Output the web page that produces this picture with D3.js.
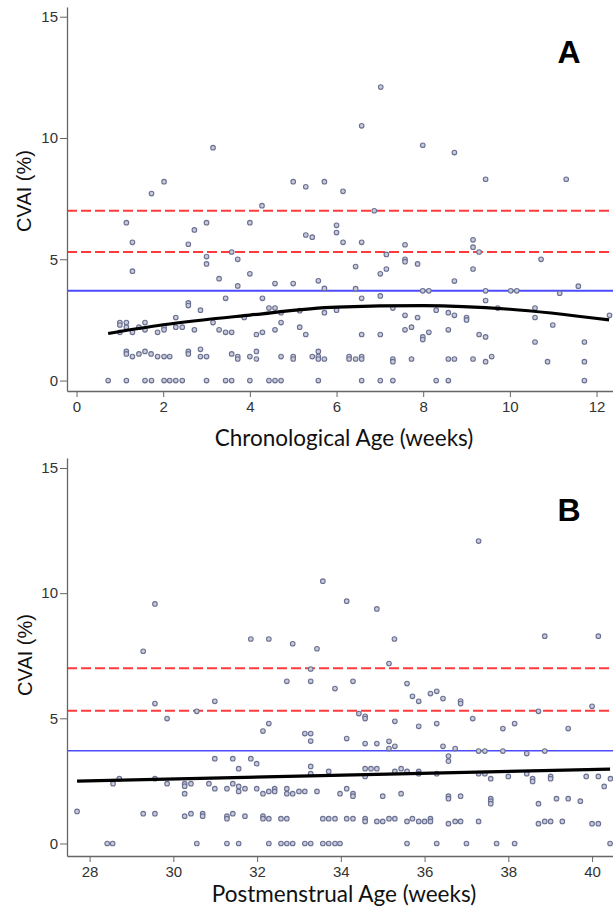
<!DOCTYPE html>
<html><head><meta charset="utf-8">
<script src="https://cdn.jsdelivr.net/npm/d3@7"></script>
<style>
html,body{margin:0;padding:0;background:#fff;overflow:hidden}
svg{display:block}
.tick text{font-family:"Liberation Sans",Arial,sans-serif;font-size:15px;fill:#333}
.tick line,.domain{stroke:#666}
</style></head><body>
<svg id="c" width="613" height="915"></svg>
<script>
// ---------- data ----------
const yTicks = [0, 5, 10, 15];
const xTicksA = [0, 2, 4, 6, 8, 10, 12];
const xTicksB = [28, 30, 32, 34, 36, 38, 40];
const redLines = [7.0, 5.3];
const blueLine = [3.7];

// Panel A: chronological age (weeks) vs CVAI (%)
const ageA = [3.15,2.02,1.73,5.0,5.29,5.72,7.02,6.58,7.99,8.72,9.44,11.3,6.15,
4.28,1.15,3.0,4.0,2.72,1.29,2.58,3.0,3.0,3.58,3.72,4.0,1.29,3.29,3.72,4.58,5.0,5.29,5.44,5.58,5.72,6.0,6.0,
3.44,4.29,2.58,2.58,2.86,4.44,4.58,4.72,5.15,5.72,6.0,3.87,2.29,3.15,1.0,1.0,1.15,1.58,4.72,1.15,1.44,1.58,2.02,2.02,2.29,2.44,1.0,1.29,1.87,2.72,3.29,3.44,3.58,4.15,4.29,4.58,5.15,5.29,
1.15,1.15,1.29,1.44,1.58,1.72,1.87,2.02,2.15,2.58,2.58,2.86,2.86,3.0,3.58,3.72,3.72,4.0,4.15,4.15,4.72,5.0,5.0,5.44,5.58,5.58,5.58,5.72,
0.73,1.15,1.58,1.73,2.02,2.15,2.29,2.44,3.0,3.44,3.58,4.0,4.44,4.58,4.72,5.58,
6.87,6.15,6.58,7.58,7.15,7.58,7.58,7.87,6.44,7.15,7.01,9.15,9.15,9.29,9.15,10.72,8.72,6.44,7.99,8.13,9.44,10.02,10.16,11.58,11.15,6.58,7.01,9.44,7.3,8.3,8.58,7.58,7.87,8.72,9.0,9.0,9.72,10.58,10.58,12.3,10.99,7.73,7.58,8.13,7.99,7.99,8.58,6.58,7.01,9.29,9.44,10.58,11.72,
6.29,6.29,6.44,6.58,6.58,7.3,7.3,7.73,8.58,8.72,9.15,9.44,9.58,10.87,11.72,
6.58,7.01,7.3,8.3,8.58,11.72];
const cvaiA = [9.6,8.2,7.71,8.2,7.99,8.2,12.1,10.5,9.7,9.4,8.3,8.3,7.8,
7.21,6.51,6.51,6.51,6.21,5.70,5.62,5.11,4.81,5.30,5.0,4.40,4.51,4.20,3.90,4.0,4.0,6.0,5.91,4.11,3.80,6.4,6.1,
3.39,3.39,3.2,3.09,2.9,2.99,2.99,2.8,2.88,2.8,2.9,2.6,2.6,2.39,2.39,2.29,2.39,2.39,2.39,2.2,2.2,2.09,2.2,2.09,2.2,2.2,1.99,1.99,1.99,2.09,2.09,1.99,1.99,1.9,1.99,2.09,2.2,1.9,
1.2,1.1,0.99,1.1,1.2,1.1,0.99,0.99,0.99,1.2,1.1,1.29,0.99,0.99,1.1,0.99,0.89,0.99,1.2,0.89,0.99,0.99,0.89,0.99,1.2,0.99,0.89,0.89,
0,0,0,0,0,0,0,0,0,0,0,0,0,0,0,0,
7.0,5.7,5.7,5.6,5.2,5.0,4.9,4.81,4.7,4.6,4.4,5.8,5.5,5.3,4.6,5.0,4.1,3.79,3.7,3.7,3.7,3.7,3.7,3.89,3.6,3.39,3.49,3.3,2.99,2.9,2.8,2.69,2.6,2.69,2.6,2.5,2.99,2.99,2.6,2.69,2.29,2.2,2.09,1.99,1.8,1.69,2.09,1.9,1.9,1.9,1.8,1.59,1.59,
0.99,0.89,0.89,0.99,0.89,0.89,0.78,0.89,0.89,0.89,0.89,0.78,0.99,0.78,0.78,
0,0,0,0,0,0];
const fitAgeA = [0.73, 2, 4, 6, 8, 10, 12.29];
const fitCvaiA = [1.94, 2.3, 2.7, 3.03, 3.09, 2.94, 2.5];

// Panel B: postmenstrual age (weeks) vs CVAI (%)
const pmaB = [29.28,29.56,31.85,32.28,32.85,33.43,33.57,37.29,34.14,34.86,35.28,38.87,40.15,
33.28,32.71,33.28,33.86,30.99,29.56,30.56,29.85,32.28,32.14,33.14,33.28,33.28,30.99,31.42,31.85,31.99,31.56,33.28,33.28,33.71,28.71,28.56,29.56,29.85,30.27,30.27,30.27,30.42,30.85,30.99,31.28,31.42,31.56,31.56,31.71,31.99,32.14,32.28,32.42,32.42,32.71,32.71,32.85,33.0,33.14,33.43,33.98,
27.7,29.28,29.56,30.27,30.42,30.7,30.7,31.28,31.28,31.42,31.71,32.14,32.14,32.28,32.57,32.71,33.57,33.71,33.86,
28.42,28.55,30.56,31.28,31.56,32.28,32.57,32.71,32.85,33.14,33.28,33.57,33.71,33.86,33.98,
35.15,34.29,35.58,35.71,35.86,36.14,36.29,36.44,36.86,36.86,34.43,34.58,34.58,35.29,35.86,36.29,37.15,37.87,38.15,38.72,39.43,40.0,34.14,34.58,34.86,35.15,35.15,35.29,36.44,36.73,36.57,36.57,37.29,37.44,37.87,38.44,38.87,
34.58,34.72,34.86,34.58,35.29,35.44,35.58,35.86,35.86,36.29,37.29,37.44,37.58,38.0,38.44,38.58,38.58,39.01,39.01,39.86,40.15,40.29,40.44,34.14,34.29,34.29,35.0,35.44,36.57,36.57,36.86,37.58,37.58,37.58,38.72,39.15,39.43,39.72,
34.14,34.29,34.58,34.58,34.86,35.0,35.15,35.29,35.58,35.71,35.86,36.0,36.14,36.14,36.57,36.73,36.86,37.29,38.72,38.87,39.01,39.29,40.0,40.15,
35.58,36.29,37.0,37.72,38.15,40.43];
const cvaiB = [7.68,9.57,8.17,8.17,7.98,7.78,10.48,12.08,9.68,9.37,8.17,8.28,8.28,
6.97,6.48,6.48,6.19,5.68,5.59,5.28,4.99,4.79,4.49,4.39,4.39,4.09,3.39,3.39,3.39,3.19,2.99,3.08,2.79,2.88,2.59,2.39,2.59,2.39,2.39,2.29,1.99,2.39,2.39,2.19,2.19,2.39,2.28,2.08,2.19,2.19,1.99,2.08,2.19,2.08,2.19,1.99,1.99,2.08,2.08,2.08,1.99,
1.28,1.19,1.19,1.09,1.19,1.19,1.09,1.09,0.99,1.19,1.09,1.09,0.99,0.99,0.99,0.99,0.99,0.99,0.99,
0,0,0,0,0,0,0,0,0,0,0,0,0,0,0,
7.19,6.48,6.39,5.88,5.68,5.99,6.08,5.79,5.69,5.59,5.19,5.08,4.99,4.88,4.68,4.79,4.99,4.59,4.79,5.28,4.59,5.48,4.19,3.99,3.99,4.08,3.79,3.88,3.88,3.79,3.49,3.29,3.69,3.69,3.69,3.59,3.69,
2.99,2.99,2.99,2.68,2.88,2.99,2.88,2.88,2.79,2.79,2.79,2.79,2.59,2.68,2.79,2.59,2.48,2.68,2.59,2.68,2.68,2.28,2.59,2.19,1.99,1.89,1.89,1.99,1.89,1.79,1.89,1.79,1.69,1.59,1.59,1.79,1.79,1.69,
0.99,0.99,0.99,0.88,0.88,0.88,0.99,0.99,0.88,0.99,0.88,0.88,0.99,0.88,0.79,0.88,0.88,0.88,0.79,0.88,0.88,0.88,0.79,0.79,
0,0,0,0,0,0];
const fitPmaB = [27.7, 40.43];
const fitCvaiB = [2.49, 2.97];

// ---------- drawing ----------
const svg = d3.select("#c");

function panel(cfg) {
  const g = svg.append("g");
  const x = d3.scaleLinear().domain(cfg.xDomain).range([cfg.left, 613]);
  const y = d3.scaleLinear().domain(cfg.yDomain).range([cfg.bottom, cfg.top]);

  g.selectAll(".red").data(redLines).join("line")
    .attr("x1", cfg.left).attr("x2", 613)
    .attr("y1", d => y(d)).attr("y2", d => y(d))
    .attr("stroke", "#ff3a3a").attr("stroke-width", 2).attr("stroke-dasharray", "10,4");
  g.selectAll(".blue").data(blueLine).join("line")
    .attr("x1", cfg.left).attr("x2", 613)
    .attr("y1", d => y(d)).attr("y2", d => y(d))
    .attr("stroke", "#4b4bff").attr("stroke-width", cfg.blueW);

  const pts = cfg.xs.map((v, i) => [v, cfg.ys[i]]);
  g.selectAll("circle").data(pts).join("circle")
    .attr("cx", d => x(d[0])).attr("cy", d => y(d[1])).attr("r", 2.3)
    .attr("fill", "#c9cbdc").attr("stroke", "#6a7090").attr("stroke-width", 1.1);

  const fit = cfg.fx.map((v, i) => [v, cfg.fy[i]]);
  g.append("path").datum(fit)
    .attr("d", d3.line().x(d => x(d[0])).y(d => y(d[1])).curve(d3.curveMonotoneX))
    .attr("fill", "none").attr("stroke", "#000").attr("stroke-width", 3.2);

  g.append("g").attr("transform", `translate(${cfg.left},0)`)
    .call(d3.axisLeft(y).tickValues(yTicks).tickSize(7).tickSizeOuter(0).tickPadding(2));
  g.append("g").attr("transform", `translate(0,${cfg.bottom})`)
    .call(d3.axisBottom(x).tickValues(cfg.xTicks).tickSize(6).tickSizeOuter(0).tickPadding(4));
  g.selectAll(".domain").attr("stroke-width", 1.3);

  g.append("text").attr("transform", `translate(${cfg.yTitleX},${cfg.yTitleY}) rotate(-90)`)
    .attr("text-anchor", "middle")
    .style("font-family", "'Liberation Sans',Arial,sans-serif").style("font-size", "20px").attr("fill", "#111")
    .text("CVAI (%)");
  g.append("text").attr("x", 344).attr("y", cfg.xTitleY).attr("text-anchor", "middle")
    .style("font-family", "Lato,'Open Sans',sans-serif").style("font-size", "22.5px").attr("fill", "#111")
    .text(cfg.xTitle);
  g.append("text").attr("x", 569).attr("y", cfg.letterY).attr("text-anchor", "middle")
    .style("font-family", "'Liberation Sans',Arial,sans-serif").style("font-size", "32px").style("font-weight", "bold")
    .attr("fill", "#000").text(cfg.letter);
}

panel({xs: ageA, ys: cvaiA, fx: fitAgeA, fy: fitCvaiA, xDomain: [-0.22, 12.38], yDomain: [-0.43, 15.4],
  left: 67, top: 7, bottom: 391, xTicks: xTicksA, blueW: 2, yTitleX: 31, yTitleY: 191,
  xTitle: "Chronological Age (weeks)", xTitleY: 446, letter: "A", letterY: 63});
panel({xs: pmaB, ys: cvaiB, fx: fitPmaB, fy: fitCvaiB, xDomain: [27.46, 40.5], yDomain: [-0.5, 15.4],
  left: 67, top: 458, bottom: 856, xTicks: xTicksB, blueW: 1.5, yTitleX: 32, yTitleY: 655,
  xTitle: "Postmenstrual Age (weeks)", xTitleY: 902, letter: "B", letterY: 521});
</script>
</body></html>
